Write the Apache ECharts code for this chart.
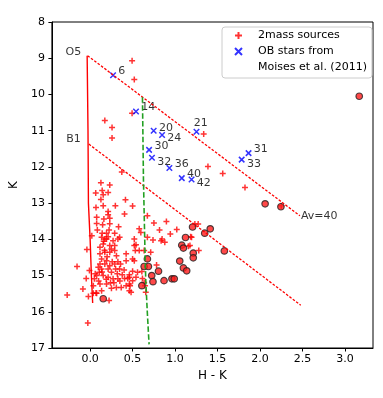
<!DOCTYPE html>
<html>
<head>
<meta charset="utf-8">
<script src="https://cdn.jsdelivr.net/npm/echarts@6.0.0/dist/echarts.min.js"></script>
<style>
  html, body { margin: 0; padding: 0; background: #fff; }
  #main { width: 383px; height: 398px; }
</style>
</head>
<body>
<div id="main"></div>
<script>
// 2MASS sources (H-K, K)
var massSources = [
  [0.494, 9.07], [0.52, 9.59], [0.494, 10.52], [0.173, 10.72], [0.258, 10.91], [0.258, 11.2],
  [1.337, 11.09], [1.387, 11.99], [1.561, 12.18], [1.823, 12.57], [0.373, 12.14],
  [0.127, 12.44], [0.231, 12.5], [0.066, 12.72], [0.142, 12.65], [0.154, 12.77], [0.212, 12.71],
  [0.127, 12.9], [0.069, 13.12], [0.154, 13.07], [0.297, 13.07], [0.416, 12.91], [0.212, 13.23],
  [0.212, 13.32], [0.077, 13.39], [0.162, 13.44], [0.405, 13.3], [0.231, 13.42], [0.077, 13.56],
  [0.147, 13.6], [0.231, 13.57], [0.335, 13.65], [0.085, 13.74], [0.142, 13.83], [0.193, 13.83],
  [0.223, 13.74], [0.289, 13.83], [0.02, 13.9], [0.135, 13.94], [0.212, 13.93], [0.347, 13.94],
  [0.173, 13.99], [0.5, 13.08],
  [0.674, 13.35], [0.751, 13.55], [0.898, 13.51], [0.578, 13.71], [0.597, 13.81], [0.817, 13.74],
  [0.944, 13.85], [1.02, 13.73], [1.272, 13.58], [1.233, 13.58], [0.674, 13.94], [0.74, 14.02],
  [0.847, 13.99], [0.52, 13.99], [0.836, 14.04], [0.879, 14.08], [0.52, 14.17], [0.532, 14.31],
  [0.578, 14.31], [0.636, 14.31], [0.713, 14.36], [0.52, 14.59], [0.5, 14.88], [0.558, 14.91],
  [0.609, 14.89], [0.462, 15.05], [0.54, 15.05], [0.616, 15.08], [0.647, 15.28], [0.636, 15.19],
  [0.462, 15.23], [0.462, 15.42], [0.655, 15.46], [1.175, 14.17], [1.279, 14.31], [1.194, 13.94],
  [1.183, 13.93], [1.156, 14.19], [0.782, 14.71], [2.25, 13.07], [0.54, 14.15],
  [-0.038, 14.28], [-0.154, 14.75], [-0.008, 14.86], [-0.046, 15.08], [-0.085, 15.37], [-0.27, 15.54],
  [-0.02, 15.58], [0.069, 15.48], [0.038, 15.28], [0.05, 15.09], [0.077, 15.0], [0.108, 14.91],
  [0.096, 14.77], [0.223, 15.69], [0.135, 15.42], [0.116, 15.23], [0.193, 15.23], [0.251, 15.35],
  [0.309, 15.33], [0.366, 15.33], [0.424, 15.28], [0.47, 15.28], [0.482, 15.46], [0.5, 15.14],
  [0.443, 15.08], [0.405, 15.08], [0.327, 15.09], [0.27, 15.09], [0.212, 15.05], [0.154, 15.0],
  [0.251, 14.91], [0.3, 14.82], [0.347, 14.82], [0.212, 14.82], [0.135, 14.82], [0.116, 14.68],
  [0.173, 14.68], [0.231, 14.73], [0.193, 14.59], [0.135, 14.54], [0.116, 14.4], [0.173, 14.36],
  [0.231, 14.36], [0.289, 14.31], [0.289, 14.17], [0.231, 14.17], [0.154, 14.13], [0.116, 14.22],
  [0.327, 13.99], [0.27, 14.04], [0.193, 13.99], [0.424, 14.4], [0.424, 14.59], [0.5, 14.54],
  [0.327, 14.62], [0.289, 14.68], [0.378, 14.98], [0.462, 14.98], [0.358, 14.68],
  [0.038, 15.49], [0.077, 15.49], [-0.027, 16.31],
  [0.16, 14.05], [0.25, 14.27], [0.31, 14.45], [0.2, 14.48], [0.26, 14.62], [0.14, 14.9],
  [0.19, 15.1], [0.24, 15.2], [0.1, 15.15], [0.32, 14.95], [0.28, 15.2], [0.17, 14.3],
  [0.06, 14.95], [0.35, 15.15], [0.4, 14.85]
];

// circled sources
var circledSources = [
  [0.154, 15.64], [0.609, 15.28], [0.636, 14.75], [0.674, 14.54], [0.686, 14.75], [0.725, 15.0],
  [0.74, 15.17], [0.805, 14.88], [0.87, 15.14], [0.963, 15.09], [0.99, 15.09], [1.055, 14.6],
  [1.079, 14.16], [1.098, 14.24], [1.123, 13.95], [1.098, 14.79], [1.137, 14.87], [1.214, 14.38],
  [1.214, 14.51], [1.206, 13.66], [1.349, 13.83], [1.414, 13.71], [1.58, 14.32], [2.06, 13.02],
  [2.246, 13.1], [3.168, 10.05]
];

// OB stars from Moises et al. (2011)
var obStars = [
  [0.27, 9.47], [0.54, 10.47], [0.748, 11.0], [0.847, 11.12], [1.252, 11.03], [0.694, 11.53],
  [0.728, 11.75], [0.933, 12.03], [1.079, 12.31], [1.194, 12.35], [1.865, 11.62], [1.784, 11.8]
];
var obNames = ['6', '14', '20', '24', '21', '30', '32', '36', '40', '42', '31', '33'];

// main sequence, reddening vectors and the green line
var msLine = [[-0.035, 8.93], [-0.025, 11.0], [-0.02, 13.0], [0.0, 14.0], [0.015, 15.0], [0.03, 15.76]];
var redVecO5 = [[-0.03, 8.93], [2.47, 13.35]];
var redVecB1 = [[-0.015, 11.37], [2.48, 15.82]];
var greenLine = [[0.616, 10.08], [0.628, 12.38], [0.644, 14.13], [0.655, 15.14], [0.674, 16.05], [0.694, 16.9]];

var noteTexts = ['O5', 'B1', 'Av=40'];
var notePoints = [[-0.035, 8.93], [-0.015, 11.37], [2.47, 13.35]];

var xTicks = [0, 0.5, 1.0, 1.5, 2.0, 2.5, 3.0];

// label placement for the OB numbers
var obLabelOffset = {
  '6': [0, -4], '14': [0, -4], '20': [0, -3], '24': [0, 3.5], '21': [-8, -9], '30': [0, -3.5],
  '32': [0, 4.4], '36': [0, -4], '40': [0, -4], '42': [0, 3.4], '31': [0, -4], '33': [0, 4]
};
var noteLabelStyle = {
  'O5': { position: 'left', distance: 6, offset: [0, -3.5] },
  'B1': { position: 'left', distance: 8, offset: [0, -4.5] },
  'Av=40': { position: 'right', distance: 1, offset: [0, 0] }
};

var plusPath = 'path://M5,0L5,10M0,5L10,5';
var crossPath = 'path://M0,0L10,10M10,0L0,10';
var font = 'DejaVu Sans';

var myChart = echarts.init(document.getElementById('main'));
myChart.setOption({
  animation: false,
  textStyle: { fontFamily: font },
  grid: { left: 46, right: 10, top: 22, bottom: 50, show: true, borderColor: '#000', borderWidth: 1 },
  legend: {
    orient: 'vertical',
    left: 222, top: 27,
    padding: [2, 5, 4, 12],
    itemGap: 3,
    itemWidth: 7, itemHeight: 7,
    borderColor: '#cccccc', borderWidth: 1, borderRadius: 3,
    backgroundColor: 'rgba(255,255,255,0.8)',
    selectedMode: false,
    textStyle: { fontFamily: font, fontSize: 11, color: '#000', lineHeight: 13, padding: [0, 0, 0, 11] },
    data: [
      { name: '2mass sources', icon: plusPath },
      { name: 'OB stars from', icon: crossPath },
      { name: 'Moises et al. (2011)', icon: 'none' }
    ]
  },
  xAxis: {
    type: 'value',
    min: -0.45, max: 3.33,
    name: 'H - K',
    nameLocation: 'middle',
    nameGap: 21,
    nameTextStyle: { fontFamily: font, fontSize: 12, color: '#000' },
    splitLine: { show: false },
    axisLine: { onZero: false, lineStyle: { color: '#000', width: 1 } },
    axisTick: { length: 3.5, lineStyle: { color: '#000' }, customValues: xTicks },
    axisLabel: {
      fontFamily: font, fontSize: 11, color: '#000', margin: 6,
      customValues: xTicks,
      formatter: function (v) { return v.toFixed(1); }
    }
  },
  yAxis: {
    type: 'value',
    inverse: true,
    min: 8, max: 17, interval: 1,
    name: 'K',
    nameLocation: 'middle',
    nameGap: 25,
    nameTextStyle: { fontFamily: font, fontSize: 12, color: '#000' },
    splitLine: { show: false },
    axisLine: { onZero: false, lineStyle: { color: '#000', width: 1 } },
    axisTick: { length: 3.5, lineStyle: { color: '#000' } },
    axisLabel: { fontFamily: font, fontSize: 11, color: '#000', margin: 7 }
  },
  series: [
    {
      name: 'ms', type: 'line', data: msLine, symbol: 'none', silent: true,
      lineStyle: { color: '#ff0000', width: 1.4 }
    },
    {
      name: 'vecO5', type: 'line', data: redVecO5, symbol: 'none', silent: true,
      lineStyle: { color: '#ff0000', width: 1.3, type: [2.6, 1.6] }
    },
    {
      name: 'vecB1', type: 'line', data: redVecB1, symbol: 'none', silent: true,
      lineStyle: { color: '#ff0000', width: 1.3, type: [2.6, 1.6] }
    },
    {
      name: 'green', type: 'line', data: greenLine, symbol: 'none', silent: true,
      lineStyle: { color: '#22a022', width: 1.6, type: [5.5, 2.4] }
    },
    {
      name: '2mass sources', type: 'scatter', data: massSources,
      symbol: plusPath, symbolSize: 6,
      itemStyle: { color: '#ff0000', borderColor: '#ff0000', borderWidth: 1.5 }
    },
    {
      name: 'circled', type: 'scatter', data: circledSources,
      symbol: 'circle', symbolSize: 6.5,
      itemStyle: { color: '#ff1a1a', borderColor: '#222', borderWidth: 1.2 }
    },
    {
      name: 'OB stars from', type: 'scatter',
      data: obStars.map(function (p, i) {
        return {
          value: p, name: obNames[i],
          label: { offset: obLabelOffset[obNames[i]] }
        };
      }),
      symbol: crossPath, symbolSize: 5.5,
      itemStyle: { color: '#0000ff', borderColor: '#0000ff', borderWidth: 1.5 },
      label: {
        show: true, position: 'right', distance: 1.8,
        formatter: '{b}', fontFamily: font, fontSize: 11, color: '#000'
      }
    },
    {
      name: 'Moises et al. (2011)', type: 'scatter', data: [], symbol: 'none'
    },
    {
      name: 'notes', type: 'scatter', symbolSize: 0, silent: true,
      data: notePoints.map(function (p, i) {
        var s = noteLabelStyle[noteTexts[i]];
        return {
          value: p, name: noteTexts[i],
          label: { position: s.position, distance: s.distance, offset: s.offset }
        };
      }),
      label: { show: true, formatter: '{b}', fontFamily: font, fontSize: 11, color: '#000' }
    }
  ]
});
</script>
</body>
</html>
